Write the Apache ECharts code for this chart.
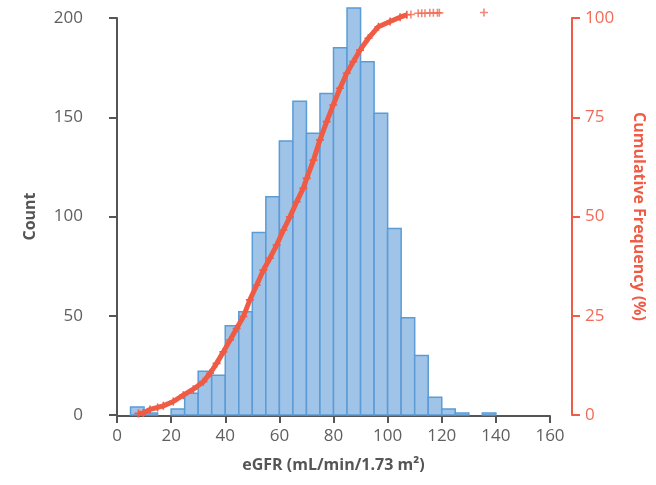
<!DOCTYPE html>
<html>
<head>
<meta charset="utf-8">
<script src="https://cdn.jsdelivr.net/npm/echarts@6/dist/echarts.min.js"></script>
<style>
html,body{margin:0;padding:0;background:#fff;}
#chart{width:656px;height:485px;}
</style>
</head>
<body>
<div id="chart"></div>
<script>
// Histogram bins (eGFR, bin width 5)
var binStarts = [5,10,15,20,25,30,35,40,45,50,55,60,65,70,75,80,85,90,95,100,105,110,115,120,125,130,135];
var binEnds   = [10,15,20,25,30,35,40,45,50,55,60,65,70,75,80,85,90,95,100,105,110,115,120,125,130,135,140];
var counts    = [4,1,0,3,11,22,20,45,52,92,110,138,158,142,162,185,205,178,152,94,49,30,9,3,1,0,1];

// Cumulative frequency (%)
var cumX = [7.9,9.7,12.2,15,17.1,20.8,24.5,28.2,31.9,34.4,36.8,39.3,41.8,44.2,46.7,49.1,51.6,54.1,56.5,59.0,61.5,63.9,66.4,68.8,70.1,72.6,75.0,77.5,79.9,82.4,84.9,87.3,89.8,92.9,96.6,100.9,104.6,107.1];
var cumY = [0.4,0.5,1.4,1.9,2.3,3.4,5.0,6.5,8.4,10.5,13.0,15.9,18.9,21.8,24.8,29.0,32.7,36.5,39.5,42.8,46.6,49.9,53.7,57.1,59.6,64.2,69.3,73.9,78.1,82.3,86.1,89.0,91.9,94.9,97.8,99.1,100.2,100.8];
var tailX = [108.6,111.3,112.6,113.8,115.6,116.9,118.4,119.1,135.6];
var tailY = [100.9,101.2,101.2,101.2,101.3,101.3,101.3,101.3,101.4];

var xTicks = [0,20,40,60,80,100,120,140,160];
var countTicks = [0,50,100,150,200];
var pctTicks = [0,25,50,75,100];

var FONT = '"Open Sans", "Noto Sans", sans-serif';
var GRAY = '#555555';
var LABELGRAY = '#5f5f5f';
var RED = '#ef5b45';
var plusPath = 'path://M-1,-5H1V-1H5V1H1V5H-1V1H-5V-1H-1Z';

var histData = binStarts.map(function(s,i){ return [s, binEnds[i], counts[i]]; });
var cumData = cumX.map(function(x,i){ return [x, cumY[i]]; });
var tailData = tailX.map(function(x,i){ return [x, tailY[i]]; });

var chart = echarts.init(document.getElementById('chart'), null, {renderer:'canvas'});
chart.setOption({
  animation:false,
  backgroundColor:'#ffffff',
  grid:{left:117, right:106, top:18, bottom:70},
  xAxis:{
    type:'value', min:xTicks[0], max:xTicks[xTicks.length-1], interval:20, offset:1,
    name:'eGFR (mL/min/1.73 m²)', nameLocation:'middle', nameGap:41,
    nameTextStyle:{fontFamily:FONT, fontSize:16, fontWeight:'bold', color:GRAY},
    axisLine:{show:true, onZero:false, lineStyle:{color:GRAY, width:2}},
    axisTick:{show:true, length:7, lineStyle:{color:GRAY, width:2}},
    axisLabel:{fontFamily:FONT, fontSize:17, color:LABELGRAY, margin:12},
    splitLine:{show:false}
  },
  yAxis:[{
    type:'value', min:countTicks[0], max:countTicks[countTicks.length-1], interval:50, position:'left', offset:21,
    name:'Count', nameLocation:'middle', nameGap:58, nameRotate:90,
    nameTextStyle:{fontFamily:FONT, fontSize:16, fontWeight:'bold', color:GRAY},
    axisLine:{show:true, lineStyle:{color:GRAY, width:2}},
    axisTick:{show:true, length:8, lineStyle:{color:GRAY, width:2}},
    axisLabel:{fontFamily:FONT, fontSize:17, color:LABELGRAY, margin:13},
    splitLine:{show:false}
  },{
    type:'value', min:pctTicks[0], max:pctTicks[pctTicks.length-1], interval:25, position:'right', offset:22,
    name:'Cumulative Frequency (%)', nameLocation:'middle', nameGap:59, nameRotate:-90,
    nameTextStyle:{fontFamily:FONT, fontSize:16, fontWeight:'bold', color:RED},
    axisLine:{show:true, lineStyle:{color:RED, width:2}},
    axisTick:{show:true, length:8, lineStyle:{color:RED, width:2}},
    axisLabel:{fontFamily:FONT, fontSize:17, color:'#f26a58', margin:13},
    splitLine:{show:false}
  }],
  series:[{
    type:'custom',
    yAxisIndex:0,
    data:histData,
    encode:{x:[0,1], y:2},
    clip:false,
    renderItem:function(params, api){
      var p0 = api.coord([api.value(0), api.value(2)]);
      var p1 = api.coord([api.value(1), 0]);
      if (api.value(2) <= 0) return null;
      return {
        type:'rect',
        shape:{x:p0[0], y:p0[1], width:p1[0]-p0[0], height:p1[1]-p0[1]},
        style:{fill:'#9fc4e8', stroke:'#5b9bd6', lineWidth:1.5}
      };
    },
    z:1
  },{
    type:'line',
    yAxisIndex:1,
    data:cumData,
    clip:false,
    smooth:false,
    symbol:plusPath,
    symbolSize:8,
    showAllSymbol:true,
    lineStyle:{color:RED, width:5},
    itemStyle:{color:RED},
    z:3
  },{
    type:'scatter',
    yAxisIndex:1,
    data:tailData,
    clip:false,
    symbol:plusPath,
    symbolSize:8,
    itemStyle:{color:'#f06a55'},
    z:3
  }]
});
</script>
</body>
</html>
